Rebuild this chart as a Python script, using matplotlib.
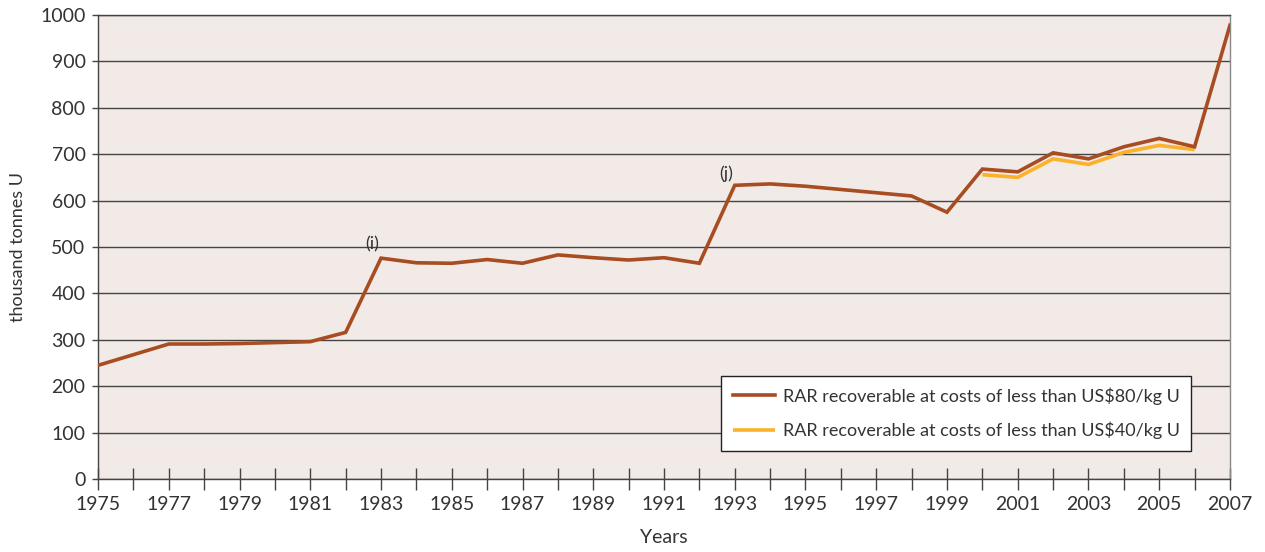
import matplotlib.pyplot as plt
from matplotlib.ticker import MultipleLocator, FixedLocator

plt.rcParams['font.family'] = ['Lato', 'DejaVu Sans']

years = list(range(1975, 2008))
rar80 = [245, 268, 291, 291, 292, 294, 296, 316, 476, 466, 465, 473, 465, 483,
         477, 472, 477, 465, 633, 636, 631, 624, 617, 610, 575, 668, 662, 703,
         690, 716, 734, 716, 978]
years40 = list(range(2000, 2007))
rar40 = [656, 650, 690, 678, 704, 719, 710]

brown = "#a84c22"
yellow = "#fbb12a"

fig = plt.figure(figsize=(12.65, 5.52), dpi=100)
ax = fig.add_axes([0.0775, 0.1322, 0.8948, 0.8406])
ax.set_facecolor("#f2eae7")

ax.plot(years40, rar40, color=yellow, lw=2.6, solid_capstyle="butt", zorder=3,
        label="RAR recoverable at costs of less than US$40/kg U")
ax.plot(years, rar80, color=brown, lw=2.6, solid_joinstyle="miter", zorder=4,
        label="RAR recoverable at costs of less than US$80/kg U")

ax.text(1982.75, 506, "(i)", ha="center", va="center", fontsize=13, color="#333333")
ax.text(1992.75, 657, "(j)", ha="center", va="center", fontsize=13, color="#333333")

ax.set_xlim(1975, 2007)
ax.set_ylim(0, 1000)
ax.xaxis.set_major_locator(FixedLocator(list(range(1975, 2008, 2))))
ax.xaxis.set_minor_locator(FixedLocator(list(range(1976, 2008, 2))))
ax.yaxis.set_major_locator(MultipleLocator(100))
ax.grid(axis="y", color="#444444", lw=1)
ax.set_axisbelow(True)

ax.tick_params(axis="x", which="both", direction="inout", length=16, width=1,
               color="#444444", labelsize=14, labelcolor="#333333", pad=4)
ax.tick_params(axis="y", direction="out", length=4, width=1, color="#444444",
               labelsize=14, labelcolor="#333333", pad=5)
for s in ax.spines.values():
    s.set_color("#444444")
    s.set_linewidth(1)
ax.spines["right"].set_color("#888888")

ax.set_xlabel("Years", fontsize=14, color="#333333", labelpad=12)
ax.set_ylabel("thousand tonnes U", fontsize=13, color="#333333", labelpad=10)

h, l = ax.get_legend_handles_labels()
leg = ax.legend(h[::-1], l[::-1], loc="lower right", bbox_to_anchor=(0.966, 0.06),
                fontsize=13, frameon=True, fancybox=False, framealpha=1,
                edgecolor="#222222", handlelength=2.3, handletextpad=0.45,
                labelspacing=0.95, borderpad=0.65, borderaxespad=0,
                labelcolor="#333333")
leg.get_frame().set_linewidth(1)

fig.savefig("out.png", dpi=100)
